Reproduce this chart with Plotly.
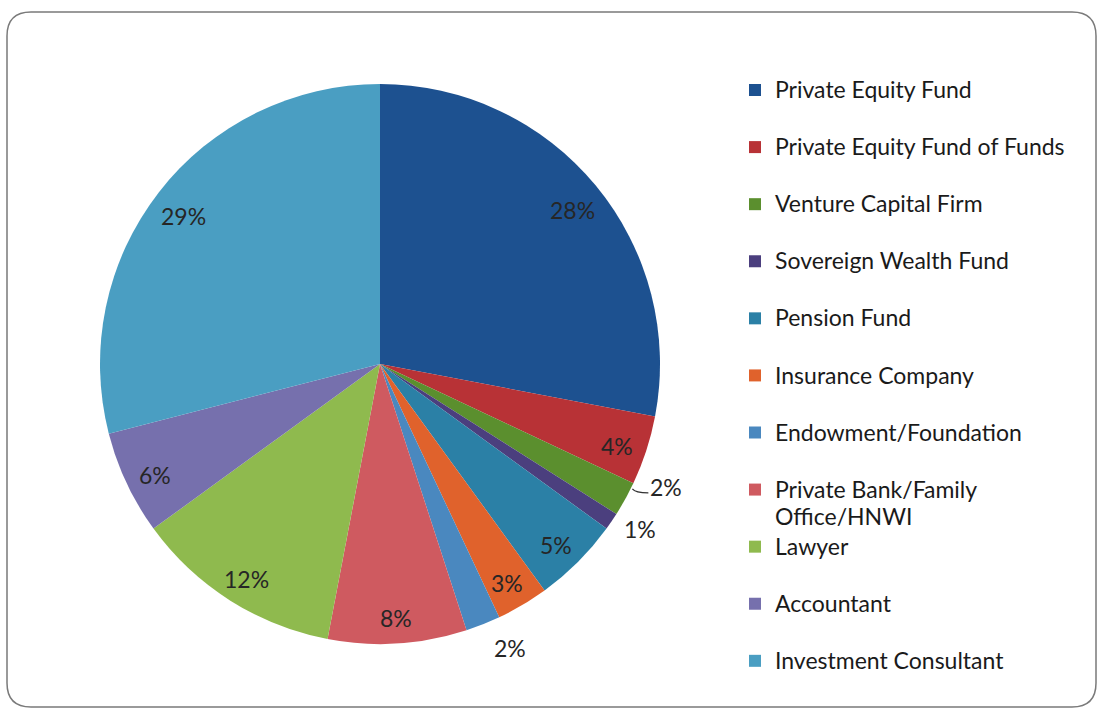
import math
import plotly.graph_objects as go

# ---- data ----
categories = [
    "Private Equity Fund",
    "Private Equity Fund of Funds",
    "Venture Capital Firm",
    "Sovereign Wealth Fund",
    "Pension Fund",
    "Insurance Company",
    "Endowment/Foundation",
    "Private Bank/Family<br>Office/HNWI",
    "Lawyer",
    "Accountant",
    "Investment Consultant",
]
values = [28, 4, 2, 1, 5, 3, 2, 8, 12, 6, 29]
colors = [
    "#1d5190", "#b83236", "#5b8f2e", "#4b3f7e", "#2b80a6", "#e0622c",
    "#4a88bf", "#cf5a60", "#8fba4e", "#7670ad", "#4a9ec2",
]

# ---- layout constants ----
W, H = 1099, 710
CX, CY, R = 380, 364, 280
FONT = "Lato"
LEG_SIZE = 20.8     # controls legend row spacing
TXT_SIZE = 23       # displayed text size


def big(s):
    return f'<span style="font-size:{TXT_SIZE}px">{s}</span>'


# legend labels: every entry occupies two lines of height
leg_labels = []
for c in categories:
    parts = c.split("<br>")
    if len(parts) == 1:
        parts.append(" ")
    leg_labels.append("<br>".join(big(p) for p in parts))

fig = go.Figure(go.Pie(
    labels=leg_labels,
    values=values,
    sort=False,
    direction="clockwise",
    rotation=0,
    marker=dict(colors=colors, line=dict(width=0)),
    textinfo="none",
    hoverinfo="skip",
    domain=dict(x=[(CX - R) / W, (CX + R) / W], y=[1 - (CY + R) / H, 1 - (CY - R) / H]),
))

# ---- percentage labels, placed from the values ----
outside = {2: (41, -12), 3: (28, 8), 6: (27, 24)}
total = sum(values)
cum = 0
annotations = []
shapes = []
for i, v in enumerate(values):
    th = 2 * math.pi * (cum + v / 2) / total
    cum += v
    if i in outside:
        ex, ey = CX + R * math.sin(th), CY - R * math.cos(th)
        dx, dy = outside[i]
        px, py = ex + dx, ey + dy
    else:
        k = 0.89
        px, py = CX + k * R * math.sin(th), CY - k * R * math.cos(th) + 5
    annotations.append(dict(
        x=px / W, y=1 - py / H, xref="paper", yref="paper",
        text=f"{round(100 * v / total)}%", showarrow=False,
        font=dict(family=FONT, size=TXT_SIZE, color="#262626"),
        xanchor="center", yanchor="middle",
    ))
    if i == 2:
        # small leader line for the venture capital label
        sx, sy = ex + 7, ey - 10
        shapes.append(dict(
            type="path", xref="paper", yref="paper",
            path=f"M {sx/W},{1-sy/H} Q {(sx+3)/W},{1-(sy+4)/H} {(sx+16)/W},{1-(sy+4)/H}",
            line=dict(color="#333333", width=1.3),
        ))

# ---- rounded border ----
x0, x1 = 7 / W, 1096 / W
yt, yb = 1 - 12 / H, 1 - 707 / H
rx, ry = 24 / W, 24 / H
border = (f"M {x0+rx},{yt} L {x1-rx},{yt} Q {x1},{yt} {x1},{yt-ry} "
          f"L {x1},{yb+ry} Q {x1},{yb} {x1-rx},{yb} L {x0+rx},{yb} "
          f"Q {x0},{yb} {x0},{yb+ry} L {x0},{yt-ry} Q {x0},{yt} {x0+rx},{yt} Z")
shapes.append(dict(type="path", xref="paper", yref="paper", path=border,
                   line=dict(color="#7a7a7a", width=1.5), layer="below"))

fig.update_layout(
    width=W, height=H,
    margin=dict(l=0, r=0, t=0, b=0),
    paper_bgcolor="white",
    plot_bgcolor="white",
    showlegend=True,
    legend=dict(
        x=735 / W, y=1 - 70 / H, xanchor="left", yanchor="top",
        font=dict(family=FONT, size=LEG_SIZE, color="#1a1a1a"),
        valign="top", itemwidth=30, bgcolor="rgba(0,0,0,0)",
        itemclick=False, itemdoubleclick=False,
    ),
    annotations=annotations,
    shapes=shapes,
)

fig.write_html(
    "out.html",
    config={"displayModeBar": False},
    post_script="document.body.style.margin='0';document.body.style.overflow='hidden';",
)
